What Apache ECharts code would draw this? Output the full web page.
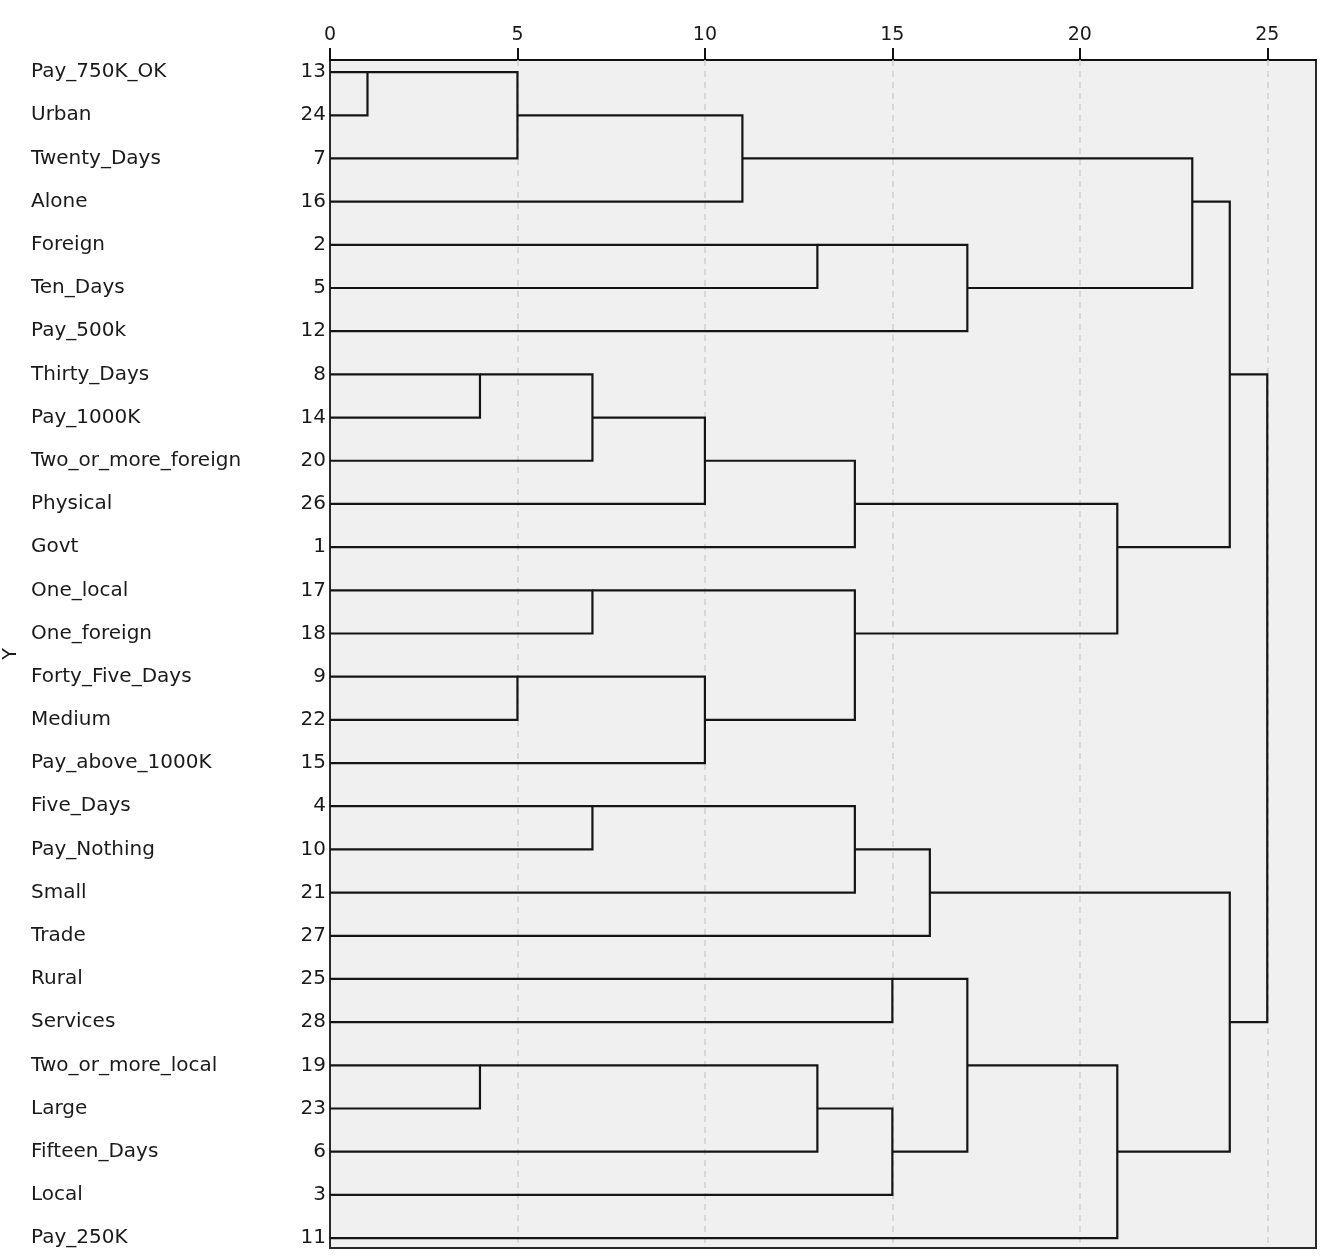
<!DOCTYPE html>
<html>
<head>
<meta charset="utf-8">
<script src="https://cdn.jsdelivr.net/npm/echarts@6/dist/echarts.min.js"></script>
<style>html,body{margin:0;padding:0;background:#fff;}#c{width:1331px;height:1258px;}</style>
</head>
<body>
<div id="c"></div>
<script>
// Leaves in display order (top to bottom)
const leafNames = ["Pay_750K_OK","Urban","Twenty_Days","Alone","Foreign","Ten_Days","Pay_500k",
  "Thirty_Days","Pay_1000K","Two_or_more_foreign","Physical","Govt","One_local","One_foreign",
  "Forty_Five_Days","Medium","Pay_above_1000K","Five_Days","Pay_Nothing","Small","Trade",
  "Rural","Services","Two_or_more_local","Large","Fifteen_Days","Local","Pay_250K"];
const caseNumbers = [13,24,7,16,2,5,12,8,14,20,26,1,17,18,9,22,15,4,10,21,27,25,28,19,23,6,3,11];
// Merges: [nodeA, nodeB] (leaves 0..27, merged nodes numbered from 28 in this order)
const mergePairs = [[0,1],[7,8],[23,24],[28,2],[14,15],[29,9],[12,13],[17,18],[33,10],[32,16],
  [31,3],[4,5],[30,25],[36,11],[34,37],[35,19],[21,22],[40,26],[43,20],[39,6],[44,45],[41,42],
  [48,27],[38,47],[51,49],[46,50],[52,53]];
// Rescaled distance at which each merge happens
const mergeHeights = [1,4,4,5,5,7,7,7,10,10,11,13,13,14,14,14,15,15,16,17,17,21,21,23,24,24,25];
const xTicks = [0,5,10,15,20,25];

const nodeRow = leafNames.map((_, i) => i);
const nodeH = leafNames.map(() => 0);
const segData = [];
mergePairs.forEach((p, k) => {
  const a = p[0], b = p[1], h = mergeHeights[k];
  const ra = nodeRow[a], rb = nodeRow[b];
  segData.push([nodeH[a], ra, h, rb, nodeH[b]]);
  nodeRow.push(Math.floor((Math.min(ra, rb) + Math.max(ra, rb)) / 2));
  nodeH.push(h);
});
const rowIdx = leafNames.map((_, i) => i);

const FONT = 'DejaVu Sans';
const chart = echarts.init(document.getElementById('c'), null, {renderer: 'canvas'});
chart.setOption({
  animation: false,
  backgroundColor: '#ffffff',
  grid: {left: 330, right: 15, top: 60, bottom: 10, show: true, outerBoundsMode: 'none',
         containLabel: false,
         backgroundColor: '#f0f0f0', borderColor: '#2a2a2a', borderWidth: 2},
  xAxis: {
    type: 'value', position: 'top', min: 0, max: 26.3, interval: 5,
    axisLine: {show: true, onZero: false, lineStyle: {color: '#111', width: 2}},
    axisTick: {show: true, inside: false, length: 12, customValues: xTicks,
               lineStyle: {color: '#111', width: 2}},
    axisLabel: {customValues: xTicks, fontFamily: FONT, fontSize: 19, color: '#1a1a1a', margin: 15},
    splitLine: {show: false}
  },
  yAxis: [
    {
      type: 'value', inverse: true, min: -0.28, max: 27.23, position: 'left',
      name: 'Y', nameLocation: 'middle', nameGap: 309, nameRotate: 90,
      nameTextStyle: {fontFamily: FONT, fontSize: 19, color: '#1a1a1a'},
      axisLine: {show: false, onZero: false}, axisTick: {show: false}, splitLine: {show: false},
      axisLabel: {customValues: rowIdx, formatter: v => String(caseNumbers[Math.round(v)]),
                  fontFamily: FONT, fontSize: 20, color: '#1a1a1a', margin: 4}
    },
    {
      type: 'value', inverse: true, min: -0.28, max: 27.23, position: 'left',
      axisLine: {show: false, onZero: false}, axisTick: {show: false}, splitLine: {show: false},
      axisLabel: {customValues: rowIdx, formatter: v => leafNames[Math.round(v)],
                  align: 'left', fontFamily: FONT, fontSize: 20, color: '#1a1a1a', margin: 299}
    }
  ],
  series: [
    {
      type: 'custom', xAxisIndex: 0, yAxisIndex: 0, silent: true, clip: false,
      data: segData,
      renderItem: function (params, api) {
        const hA = api.value(0), rA = api.value(1), h = api.value(2), rB = api.value(3), hB = api.value(4);
        const pts = [api.coord([hA, rA]), api.coord([h, rA]), api.coord([h, rB]), api.coord([hB, rB])];
        return {type: 'polyline', shape: {points: pts},
                style: {stroke: '#151515', lineWidth: 2.2, fill: null}};
      },
      markLine: {
        silent: true, symbol: 'none', label: {show: false}, z: 1,
        lineStyle: {color: '#cfcfcf', type: [6, 5], width: 1.5},
        data: xTicks.filter(v => v > 0).map(v => ({xAxis: v}))
      },
      z: 3
    }
  ]
});
</script>
</body>
</html>
